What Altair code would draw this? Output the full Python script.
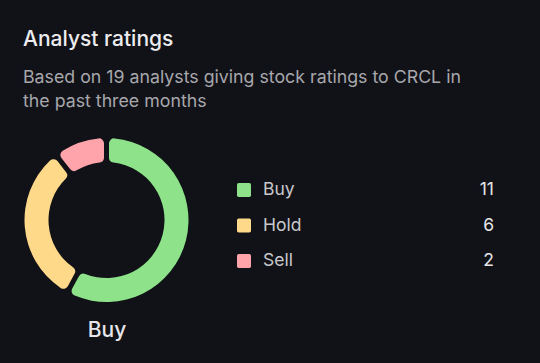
import altair as alt
import pandas as pd

ratings = ["Buy", "Hold", "Sell"]
counts = [11, 6, 2]
colors = ["#8de28a", "#ffd98a", "#ffa4ab"]
title_text = "Analyst ratings"
subtitle_lines = ["Based on 19 analysts giving stock ratings to CRCL in", "the past three months"]

df = pd.DataFrame({"rating": ratings, "count": counts, "order": list(range(len(ratings)))})
top = ratings[counts.index(max(counts))]

color_scale = alt.Scale(domain=ratings, range=colors)
y_scale = alt.Scale(domain=ratings, range=[190, 261], padding=0)

FONT = "Inter"

arc = alt.Chart(df).mark_arc(
    innerRadius=58, outerRadius=82, padAngle=0.05, cornerRadius=5
).encode(
    theta=alt.Theta("count:Q", stack=True),
    order=alt.Order("order:Q"),
    color=alt.Color("rating:N", scale=color_scale, legend=None),
    x=alt.value(106.5),
    y=alt.value(220),
)

squares = alt.Chart(df).mark_point(
    shape="M-0.75,-1 H0.75 Q1,-1 1,-0.75 V0.75 Q1,1 0.75,1 H-0.75 Q-1,1 -1,0.75 V-0.75 Q-1,-1 -0.75,-1 Z",
    filled=True, opacity=1, size=196,
).encode(
    x=alt.value(244),
    y=alt.Y("rating:N", scale=y_scale, axis=None),
    color=alt.Color("rating:N", scale=color_scale, legend=None),
)

labels = alt.Chart(df).mark_text(
    align="left", baseline="middle", font=FONT, fontSize=17.5, color="#c9c9cd"
).encode(
    x=alt.value(263),
    y=alt.Y("rating:N", scale=y_scale, axis=None),
    text="rating:N",
)

values = alt.Chart(df).mark_text(
    align="right", baseline="middle", font=FONT, fontSize=17.5, color="#e6e6e8"
).encode(
    x=alt.value(494),
    y=alt.Y("rating:N", scale=y_scale, axis=None),
    text="count:Q",
)

title_df = pd.DataFrame({"t": [title_text]})
title = alt.Chart(title_df).mark_text(
    align="left", baseline="alphabetic", font=FONT, fontSize=21, fontWeight=500, color="#ececef"
).encode(x=alt.value(23), y=alt.value(46), text="t:N")

sub_df = pd.DataFrame({"t": subtitle_lines, "i": [0, 1]})
subtitle = alt.Chart(sub_df).mark_text(
    align="left", baseline="alphabetic", font=FONT, fontSize=17.75, color="#a7a7ac"
).encode(
    x=alt.value(23),
    y=alt.Y("i:O", scale=alt.Scale(domain=[0, 1], range=[83, 107], padding=0), axis=None),
    text="t:N",
)

top_df = pd.DataFrame({"t": [top]})
top_label = alt.Chart(top_df).mark_text(
    align="center", baseline="alphabetic", font=FONT, fontSize=21, fontWeight=500, color="#e6e6ea"
).encode(x=alt.value(107), y=alt.value(337), text="t:N")

chart = alt.layer(arc, squares, labels, values, title, subtitle, top_label).resolve_scale(
    y="independent"
).properties(
    width=540, height=363, padding=0, autosize="none", background="#111217"
).configure_view(stroke=None)

chart.save("out.html", embed_options={"renderer": "svg", "actions": False})
